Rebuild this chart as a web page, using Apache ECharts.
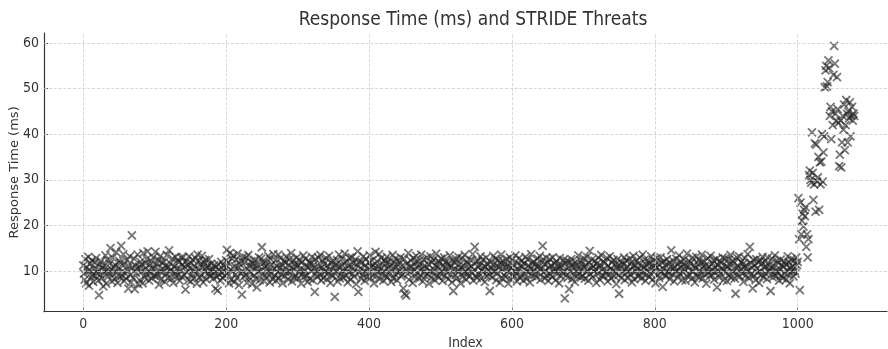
<!DOCTYPE html>
<html>
<head>
<meta charset="utf-8">
<script src="https://cdn.jsdelivr.net/npm/echarts@6/dist/echarts.min.js"></script>
<style>
html,body{margin:0;padding:0;background:#fff;}
#chart{width:888px;height:349px;}
</style>
</head>
<body>
<div id="chart"></div>
<script>
// Response time (ms) for indices 0..999 (baseline, read/estimated from picture)
const baselineValues = [
11.2,9.4,8.1,12.6,7.3,10.8,9.9,13.1,6.8,10.2,11.7,8.6,12.3,9.1,7.6,10.5,11.9,8.9,12.8,9.6,
10.3,7.9,4.7,11.4,9.2,12.1,8.4,10.7,6.6,11.1,9.8,13.4,7.2,10.1,12.5,8.8,9.5,11.6,15.0,10.4,
7.7,12.9,9.3,10.9,8.2,11.3,14.1,9.7,7.4,10.6,12.2,8.7,11.8,15.5,9.0,10.0,13.7,7.8,11.5,9.4,
8.3,12.4,10.2,6.1,11.0,13.2,9.1,7.5,17.8,10.8,8.5,12.7,6.0,11.2,9.6,10.5,13.6,7.1,10.9,8.0,
12.0,9.8,11.4,7.3,13.9,10.3,8.6,11.7,9.2,12.6,14.3,10.1,7.9,11.3,9.5,12.2,8.4,10.6,13.0,9.0,
10.7,14.2,8.8,11.5,9.3,12.4,7.0,10.0,13.3,8.1,11.8,9.7,10.4,12.0,7.6,11.1,9.4,13.5,8.5,10.8,
14.5,9.9,11.6,8.3,10.2,12.7,7.4,11.0,9.6,13.1,8.9,10.5,12.3,9.1,11.9,7.8,10.3,12.9,8.7,11.4,
13.0,9.2,10.9,5.9,12.1,9.7,11.3,8.0,13.2,10.6,7.7,11.7,9.3,12.5,10.1,8.4,11.0,12.8,9.5,7.2,
13.6,10.4,12.2,8.6,11.5,9.0,13.3,10.8,7.5,11.9,9.8,12.4,8.2,10.7,11.1,9.4,12.6,8.9,10.0,11.6,
9.1,10.5,8.3,11.2,9.7,6.1,10.9,8.7,5.7,11.4,9.3,10.2,7.9,12.0,9.6,8.5,11.3,10.1,9.0,10.6,
12.3,14.6,9.4,11.8,7.3,13.9,10.3,8.1,12.7,9.9,13.4,7.6,11.0,9.2,12.5,8.4,13.8,10.7,6.9,11.5,
9.5,12.2,4.8,10.0,13.1,8.8,11.9,9.1,12.9,7.4,10.4,13.5,8.6,11.2,9.7,12.1,7.1,10.8,11.6,9.0,
12.4,8.3,10.6,6.4,11.3,9.8,13.0,8.0,10.2,12.7,15.2,9.3,11.7,7.8,10.9,12.0,8.7,11.1,9.6,13.3,
10.1,7.5,12.6,9.4,11.4,8.2,13.7,10.5,9.0,12.3,7.9,11.0,9.7,13.6,8.5,10.7,12.8,9.2,11.5,7.3,
10.3,12.1,8.9,11.8,13.2,9.5,10.0,8.1,12.5,11.2,9.8,13.9,7.7,10.6,12.4,8.6,11.6,9.1,10.9,13.0,
8.4,11.3,9.6,12.2,10.4,7.2,11.9,9.3,13.4,8.8,10.1,12.7,9.0,11.1,7.6,10.8,12.0,8.3,11.7,9.9,
13.1,8.0,10.5,11.4,5.4,12.6,9.4,10.2,8.7,12.9,11.0,9.2,13.5,7.9,10.7,12.3,8.5,11.5,9.7,10.0,
12.8,8.2,11.2,9.5,13.3,10.3,7.4,11.8,9.1,12.1,8.9,10.6,4.3,11.3,9.8,12.4,7.7,10.9,13.6,8.4,
11.0,9.3,12.7,10.1,8.6,11.6,13.8,9.0,10.4,12.2,7.5,11.1,9.6,12.9,8.1,10.8,13.0,9.4,11.7,8.8,
10.2,12.5,7.1,11.4,14.3,5.4,9.7,12.0,10.6,8.3,11.9,9.2,13.2,10.0,7.8,11.2,12.6,8.7,10.5,9.5,
11.8,13.4,8.5,10.9,12.3,9.1,11.3,7.3,10.7,14.2,8.9,12.1,9.8,11.0,13.7,8.2,10.3,12.8,9.4,11.5,
7.9,10.1,12.4,9.0,11.7,13.1,8.6,10.6,12.0,9.6,11.2,7.6,10.4,13.5,8.4,11.9,9.3,12.7,10.8,8.0,
11.4,9.7,12.2,10.0,13.0,8.8,11.1,9.2,6.2,12.6,5.0,10.5,4.6,11.6,9.4,13.9,8.1,10.9,12.3,9.9,
11.0,7.4,12.8,10.2,8.7,11.8,13.3,9.5,10.7,12.1,8.3,11.4,9.1,13.6,10.4,7.7,12.5,9.8,11.2,8.9,
10.6,12.9,9.3,11.5,7.2,10.0,13.2,8.5,11.9,9.6,12.4,10.3,8.0,11.1,13.8,9.0,10.8,12.2,8.6,11.7,
9.4,12.7,10.1,7.8,11.3,13.0,8.9,10.5,12.0,9.7,11.6,8.2,10.9,13.4,9.2,11.0,7.5,12.3,5.6,10.4,
11.8,9.1,12.6,8.4,10.2,13.1,9.9,11.4,7.3,10.7,12.8,8.7,11.2,9.5,13.5,10.0,8.1,12.1,9.3,11.5,
10.6,8.8,12.4,11.0,9.6,13.7,7.9,10.3,15.3,9.0,11.9,8.5,12.2,10.8,9.4,11.3,13.2,8.3,10.1,12.5,
9.7,11.1,7.6,10.9,12.9,8.9,11.6,10.2,9.2,5.6,12.0,10.5,8.6,11.4,13.3,9.8,10.0,12.7,8.0,11.2,
9.5,12.3,10.7,7.4,11.8,13.6,8.4,10.4,12.1,9.1,11.5,8.7,10.8,12.6,9.9,7.2,11.0,13.0,8.2,10.6,
12.4,9.3,11.3,8.8,10.1,13.4,9.6,7.7,11.7,10.3,12.8,8.5,11.1,9.0,12.2,10.9,7.9,11.6,9.4,13.1,
10.0,8.3,12.5,11.2,9.8,7.5,10.6,13.7,8.9,11.9,10.2,12.0,9.2,11.4,8.6,10.8,12.7,9.5,11.0,13.3,
8.1,10.5,12.3,15.5,9.7,11.5,8.4,10.1,12.9,9.0,11.8,7.8,10.7,12.6,9.3,11.2,8.7,13.0,10.4,9.9,
11.6,8.0,12.1,10.3,9.4,11.0,7.3,12.8,10.9,8.8,11.3,9.6,12.4,10.0,4.0,11.7,9.1,12.2,8.5,10.6,
6.0,11.9,9.8,12.6,8.2,10.8,11.4,9.2,7.6,12.0,10.2,11.1,8.9,13.4,9.5,10.5,12.3,8.6,11.5,9.0,
10.9,12.7,8.3,11.2,9.7,13.1,10.1,7.9,11.8,14.4,9.3,10.6,12.5,8.7,11.0,9.9,12.2,10.4,7.4,11.6,
9.4,12.9,10.7,8.1,11.3,13.5,9.0,10.3,12.1,8.8,11.7,9.6,10.0,12.8,7.7,11.1,9.2,13.2,10.5,8.4,
11.9,10.2,12.4,8.9,9.8,11.4,7.1,10.8,12.6,9.1,5.0,11.2,10.6,8.5,12.0,9.5,11.5,13.0,8.0,10.4,
12.3,9.7,11.0,8.6,10.1,12.7,9.3,11.8,7.5,10.9,13.3,8.2,11.3,9.9,12.2,10.5,8.8,11.6,9.0,12.9,
10.0,8.4,11.1,13.6,9.6,10.7,12.5,7.8,11.4,9.2,10.3,12.0,8.7,11.7,9.4,13.2,10.8,8.1,12.4,9.8,
11.2,7.3,10.6,12.8,9.1,11.5,8.5,10.2,13.0,9.7,11.9,6.5,10.4,12.1,9.0,11.3,8.9,12.6,10.0,9.5,
11.8,8.2,10.9,14.5,9.3,12.3,10.5,7.7,11.0,9.8,12.7,10.1,8.6,11.6,13.4,9.4,10.7,12.0,8.0,11.4,
9.6,12.5,10.3,7.9,11.1,13.8,8.8,10.8,12.2,9.2,11.7,10.0,8.3,12.9,9.9,11.3,7.5,10.6,13.1,9.0,
11.5,8.7,12.4,10.2,9.5,11.9,13.6,8.4,10.9,12.0,9.3,11.2,7.2,10.4,12.8,9.7,11.0,8.9,13.3,10.1,
9.1,11.6,12.3,8.1,10.7,9.8,12.6,6.4,11.3,10.0,8.6,12.1,9.4,11.8,10.5,13.0,8.0,10.3,12.7,9.6,
11.1,7.8,10.8,12.5,9.0,11.4,13.5,8.5,10.1,12.2,9.7,11.7,8.3,5.0,10.6,12.9,9.2,11.0,13.2,8.8,
10.4,12.0,9.5,11.5,7.6,10.9,12.8,8.9,11.2,9.9,13.7,10.2,8.4,15.3,11.8,9.3,10.7,6.2,12.4,9.0,
11.3,8.0,12.6,10.5,9.6,11.9,7.4,10.0,12.3,9.1,11.6,13.1,8.7,10.8,12.1,9.4,11.0,8.2,12.9,10.3,
9.8,11.4,5.6,10.6,12.7,8.6,11.1,9.3,13.4,10.1,8.9,12.2,9.7,11.7,7.9,10.4,12.5,9.0,11.2,8.4,
10.9,12.0,9.5,11.5,8.1,10.2,13.2,9.2,11.8,7.3,10.7,12.6,9.9,11.0,8.8,12.3,10.0,9.4,13.0,11.3
];
// Response time (ms) for indices 1000..1079 (surge)
const surgeValues = [
12.0,26.0,17.0,5.8,25.0,18.0,21.0,22.5,19.7,23.4,22.0,24.0,15.3,18.0,13.0,17.0,31.0,32.0,30.0,29.4,
40.4,31.5,25.6,29.0,38.0,23.0,37.7,29.6,30.5,35.0,23.4,33.8,29.0,34.0,40.0,29.6,36.0,39.5,50.3,54.0,
55.0,50.5,51.4,56.2,54.5,44.0,46.0,38.9,45.0,42.0,53.0,59.4,55.5,44.5,43.0,52.5,45.5,42.5,33.0,35.5,
43.0,32.7,38.2,44.0,41.0,46.5,36.5,42.0,47.5,44.5,38.2,45.0,43.5,47.0,39.5,44.0,46.0,43.0,44.5,44.0
];
const xTicks = [0, 200, 400, 600, 800, 1000];
const yTicks = [10, 20, 30, 40, 50, 60];

const values = baselineValues.concat(surgeValues);
const points = values.map((v, i) => [i, v]);

const FONT = "'DejaVu Sans Condensed', 'Liberation Sans Narrow', 'DejaVu Sans', sans-serif";
const axisColor = '#333';
const gridLine = { type: 'dashed', color: '#cfcfcf', width: 0.8 };

const chart = echarts.init(document.getElementById('chart'), null, { renderer: 'canvas' });
chart.setOption({
  animation: false,
  backgroundColor: '#fff',
  title: {
    text: 'Response Time (ms) and STRIDE Threats',
    left: 468, top: 6, textAlign: 'center',
    textStyle: { fontFamily: FONT, fontSize: 19, fontWeight: 'normal', color: '#333' }
  },
  grid: { left: 44, right: 1, top: 33, bottom: 37.3, containLabel: false, outerBoundsMode: 'none' },
  xAxis: {
    type: 'value', min: -55, max: 1125,
    name: 'Index', nameLocation: 'middle', nameGap: 25, nameMoveOverlap: false,
    nameTextStyle: { fontFamily: FONT, fontSize: 14, color: '#333' },
    axisLine: { show: true, onZero: false, lineStyle: { color: axisColor, width: 1.2 } },
    axisTick: { show: true, inside: true, length: 4, customValues: xTicks, lineStyle: { color: axisColor } },
    axisLabel: { customValues: xTicks, margin: 6, fontFamily: FONT, fontSize: 14, color: '#333',
                 formatter: v => String(v) },
    splitLine: { show: false }
  },
  yAxis: {
    type: 'value', min: 1.06, max: 62.2,
    name: 'Response Time (ms)', nameLocation: 'middle', nameGap: 23, nameRotate: 90, nameMoveOverlap: false,
    nameTextStyle: { fontFamily: "'DejaVu Sans', sans-serif", fontSize: 13, color: '#333' },
    axisLine: { show: true, onZero: false, lineStyle: { color: axisColor, width: 1.2 } },
    axisTick: { show: true, inside: true, length: 4, customValues: yTicks, lineStyle: { color: axisColor } },
    axisLabel: { customValues: yTicks, margin: 5, fontFamily: FONT, fontSize: 14, color: '#333',
                 formatter: v => String(v) },
    splitLine: { show: false }
  },
  series: [
    {
      type: 'scatter', data: [], z: 1, silent: true,
      markLine: {
        silent: true, symbol: ['none', 'none'], animation: false,
        label: { show: false },
        lineStyle: gridLine,
        data: xTicks.map(v => ({ xAxis: v })).concat(yTicks.map(v => ({ yAxis: v })))
      }
    },
    {
      type: 'scatter', z: 2,
      data: points,
      symbol: 'path://M0,0L10,10M10,0L0,10',
      symbolSize: 8,
      itemStyle: { color: 'rgba(0,0,0,0)', borderColor: 'rgba(35,35,35,0.78)', borderWidth: 1.8 }
    }
  ]
});
</script>
</body>
</html>
